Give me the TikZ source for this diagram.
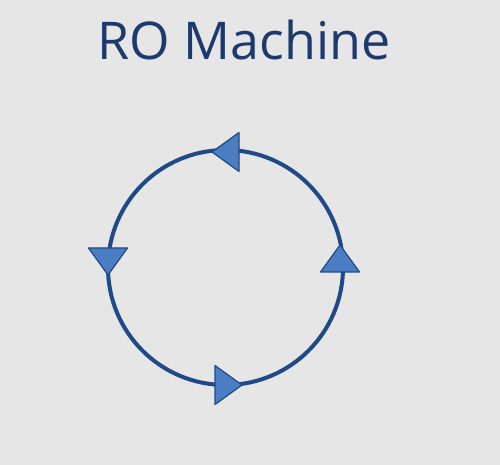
\documentclass[tikz,border=0pt]{standalone}
\usepackage{fontspec}
\setmainfont{Open Sans}
\usepackage{xcolor}
\usepackage{tikz}
\definecolor{bgray}{HTML}{E6E6E6}
\definecolor{titleblue}{HTML}{1C3A6E}
\definecolor{ringblue}{HTML}{1F4A87}
\definecolor{tipblue}{HTML}{4A7DC2}
\tikzset{ring/.style={draw=ringblue,line width=4pt},
  tri/.style={draw=ringblue,fill=tipblue,line width=1.2pt,line join=round}}

\begin{document}
\begin{tikzpicture}[x=1pt,y=1pt]
        \fill[bgray] (0,0) rectangle (500,465);
        \useasboundingbox (0,0) rectangle (500,465);

        \node[anchor=base,text=titleblue,font=\fontsize{52}{60}\selectfont] (title) at (244,405) {RO Machine};

        \coordinate (c) at (225.5,197.5);
        \draw[ring] (c) circle (117.5);

        % arrow heads, counterclockwise
        \foreach \x/\y/\d in {212/313/180,340/220/90,108/190/270,242/80/0}
        {
            \begin{scope}[shift={(\x,\y)},rotate=\d]
                \draw[tri] (0,0) -- (-27,19.5) -- (-27,-19.5) -- cycle;
            \end{scope}
        }
    \end{tikzpicture}
\end{document}
